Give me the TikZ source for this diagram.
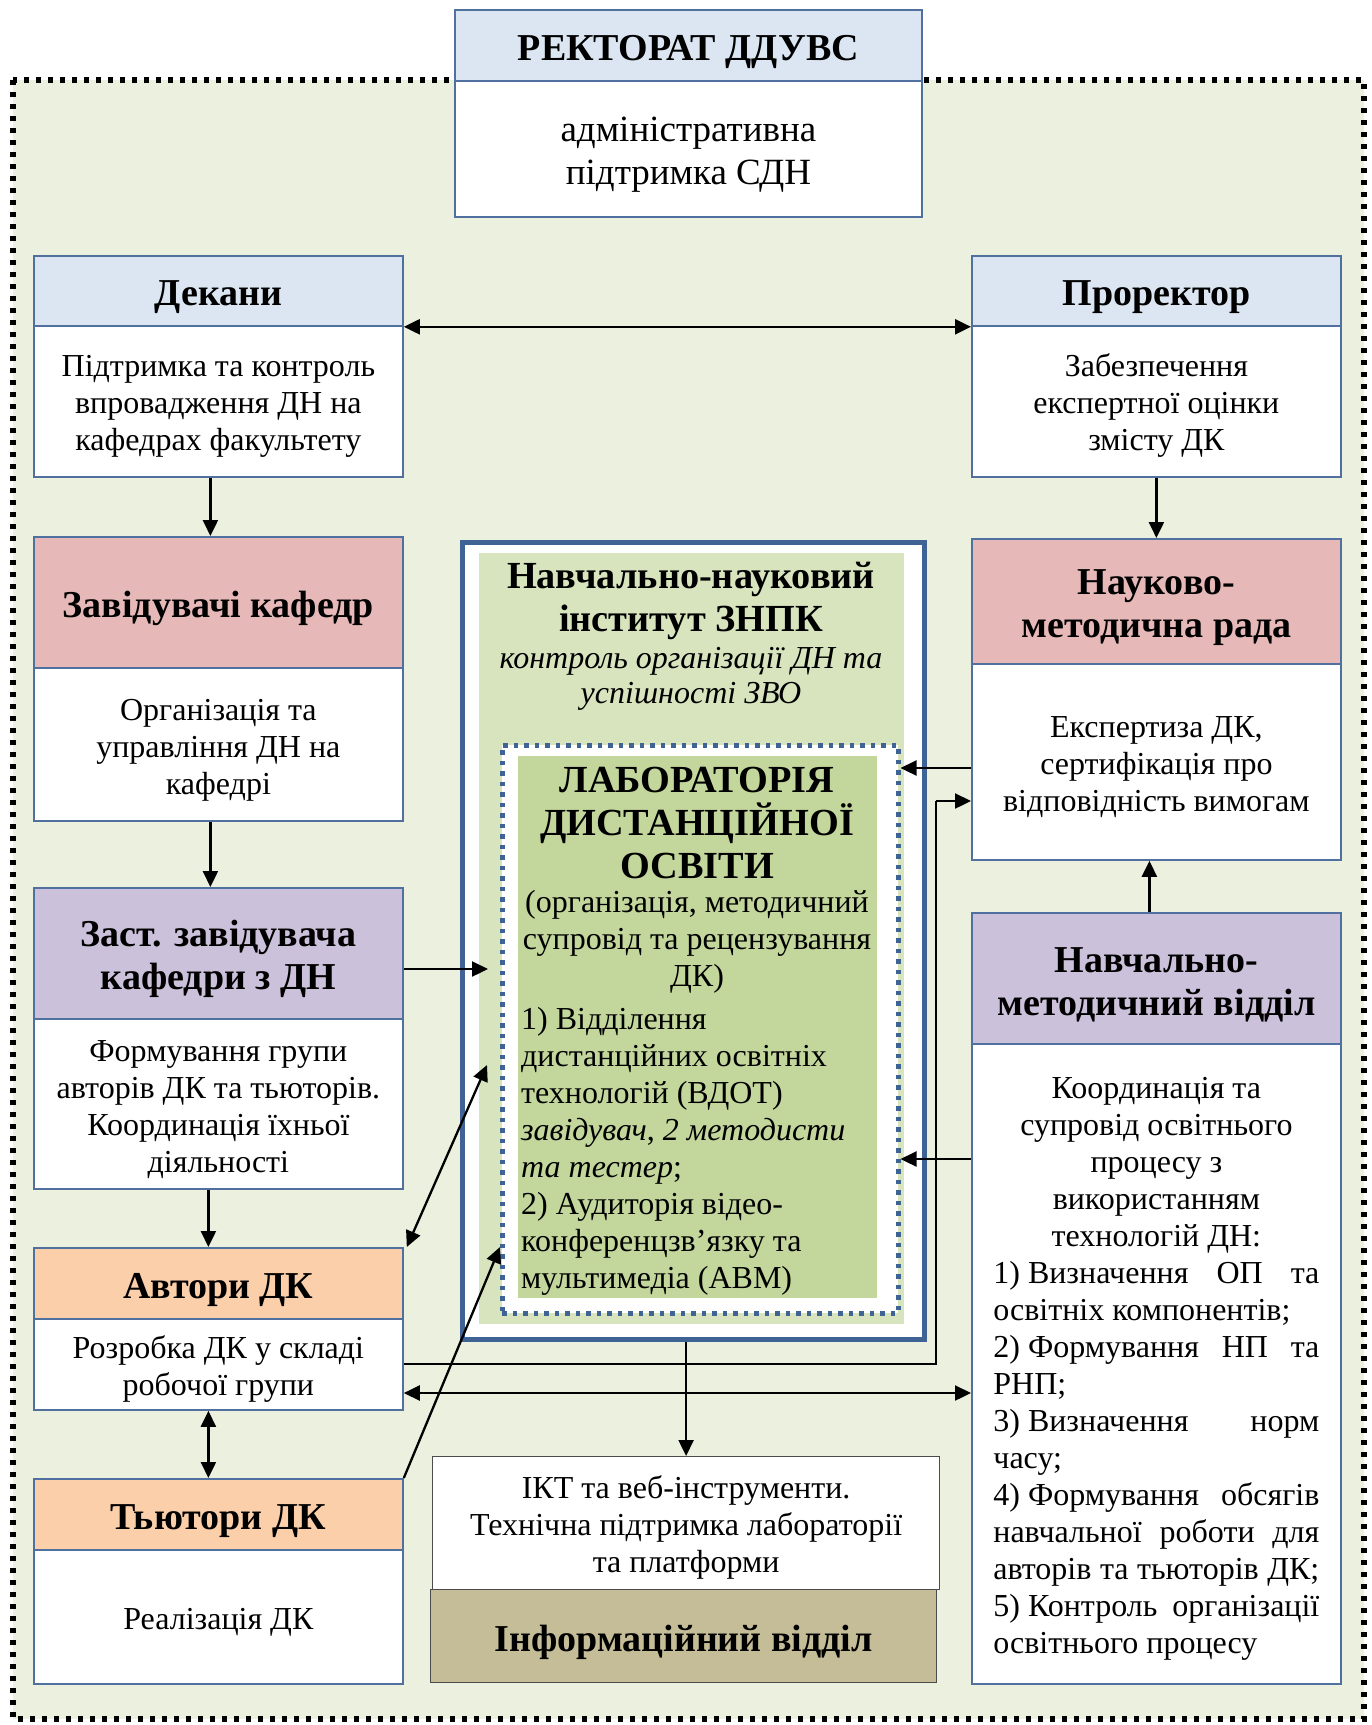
\documentclass[tikz,border=0pt]{standalone}
\usepackage{fontspec}
\setmainfont{Liberation Serif}
\usetikzlibrary{arrows.meta,calc}
\definecolor{bordc}{HTML}{50709F}
\definecolor{instc}{HTML}{3E6394}
\definecolor{labc}{HTML}{3F6395}
\definecolor{blueH}{HTML}{DCE6F2}
\definecolor{pinkH}{HTML}{E6B9B8}
\definecolor{purpH}{HTML}{CCC1DA}
\definecolor{peachH}{HTML}{FBCFAA}
\definecolor{tanH}{HTML}{C4BD97}
\definecolor{bgG}{HTML}{EBF1DE}
\definecolor{instG}{HTML}{D7E4BD}
\definecolor{labG}{HTML}{C3D69B}
\newcommand\bodyfont{\fontsize{32}{37}\selectfont}
\newcommand\hdrfont{\fontsize{38}{43}\selectfont\bfseries}
\newcommand\labtfont{\fontsize{38.3}{43}\selectfont\bfseries}
\newcommand\itfont{\fontsize{32}{35}\selectfont\itshape}
\newcommand\hs{\rule{0pt}{1em}}
\newcommand\fs{\hspace{0.25em}}
\begin{document}
\begin{tikzpicture}[x=1pt,y=-1pt,
  box/.style={draw=bordc, line width=1.8pt, rectangle, anchor=north west, inner sep=0pt, align=center},
  hdr/.style={box, font=\hdrfont},
  bod/.style={box, fill=white, font=\bodyfont},
  arr/.style={line width=2.3pt, -{Triangle[length=16pt,width=15pt]}},
  biarr/.style={line width=2.3pt, {Triangle[length=16pt,width=15pt]}-{Triangle[length=16pt,width=15pt]}},
  outerdots/.style={line width=5.5pt, dash pattern=on 5pt off 7pt},
  labdots/.style={line width=4.5pt, dash pattern=on 4.5pt off 6pt}
]
\useasboundingbox (0,0) rectangle (1372,1725);
% outer region
\fill[bgG] (13,80) rectangle (1364,1719);
\draw[outerdots] (13,80) rectangle (1364,1719);

% top box
\node[hdr, fill=blueH, minimum width=467pt, minimum height=71pt] (rekH) at (454,9) {\hs РЕКТОРАТ ДДУВС};
\node[bod, minimum width=467pt, minimum height=136pt, font=\fontsize{37}{43}\selectfont] (rekB) at (454,80) {\hs адміністративна\\підтримка СДН};

% left column
\node[hdr, fill=blueH, minimum width=369pt, minimum height=70pt] (dekH) at (33,255) {\hs Декани};
\node[bod, minimum width=369pt, minimum height=151pt] (dekB) at (33,325) {\hs Підтримка та контроль\\впровадження ДН на\\кафедрах факультету};

\node[hdr, fill=pinkH, minimum width=369pt, minimum height=131pt] (zavH) at (33,536) {\hs Завідувачі кафедр};
\node[bod, minimum width=369pt, minimum height=153pt] (zavB) at (33,667) {\hs Організація та\\управління ДН на\\кафедрі};

\node[hdr, fill=purpH, minimum width=369pt, minimum height=131pt] (zasH) at (33,887) {\hs Заст. завідувача\\кафедри з ДН};
\node[bod, minimum width=369pt, minimum height=170pt] (zasB) at (33,1018) {\hs Формування групи\\авторів ДК та тьюторів.\\Координація їхньої\\діяльності};

\node[hdr, fill=peachH, minimum width=369pt, minimum height=71pt] (avtH) at (33,1247) {\hs Автори ДК};
\node[bod, minimum width=369pt, minimum height=91pt] (avtB) at (33,1318) {\hs Розробка ДК у складі\\робочої групи};

\node[hdr, fill=peachH, minimum width=369pt, minimum height=71pt] (tyuH) at (33,1478) {\hs Тьютори ДК};
\node[bod, minimum width=369pt, minimum height=134pt] (tyuB) at (33,1549) {\hs Реалізація ДК};

% right column
\node[hdr, fill=blueH, minimum width=369pt, minimum height=70pt] (proH) at (971,255) {\hs Проректор};
\node[bod, minimum width=369pt, minimum height=151pt] (proB) at (971,325) {\hs Забезпечення\\експертної оцінки\\змісту ДК};

\node[hdr, fill=pinkH, minimum width=369pt, minimum height=125pt] (nmrH) at (971,538) {\hs Науково-\\методична рада};
\node[bod, minimum width=369pt, minimum height=196pt] (nmrB) at (971,663) {\hs Експертиза ДК,\\сертифікація про\\відповідність вимогам};

\node[hdr, fill=purpH, minimum width=369pt, minimum height=131pt] (nmvH) at (971,912) {\hs Навчально-\\методичний відділ};
\node[bod, minimum width=369pt, minimum height=640pt] (nmvB) at (971,1043) {\hs Координація та\\супровід освітнього\\процесу з\\використанням\\технологій ДН:\\
\makebox[326pt][s]{1)\fs Визначення ОП та}\\
\makebox[326pt][l]{освітніх компонентів;}\\
\makebox[326pt][s]{2)\fs Формування НП та}\\
\makebox[326pt][l]{РНП;}\\
\makebox[326pt][s]{3)\fs Визначення норм}\\
\makebox[326pt][l]{часу;}\\
\makebox[326pt][s]{4)\fs Формування обсягів}\\
\makebox[326pt][s]{навчальної роботи для}\\
\makebox[326pt][s]{авторів та тьюторів ДК;}\\
\makebox[326pt][s]{5)\fs Контроль організації}\\
\makebox[326pt][l]{освітнього процесу}};

% institute
\node[draw=instc, line width=4.5pt, fill=white, minimum width=462pt, minimum height=797pt, anchor=north west, inner sep=0pt] (inst) at (460,540) {};
\fill[instG] (479,553) rectangle (904,1324);
\node[font=\labtfont, align=center, inner sep=0pt] (instT) at (691,601) {Навчально-науковий\\інститут ЗНПК};
\node[font=\itfont, align=center, inner sep=0pt] (instS) at (691,679) {контроль організації ДН та\\успішності ЗВО};

% laboratory
\node[draw=labc, labdots, fill=white, minimum width=396pt, minimum height=568pt, anchor=north west, inner sep=0pt] (lab) at (500,743) {};
\fill[labG] (518,756) rectangle (877,1298);
\node[font=\labtfont, align=center, inner sep=0pt] (labT) at (697,823) {ЛАБОРАТОРІЯ\\ДИСТАНЦІЙНОЇ\\ОСВІТИ};
\node[font=\bodyfont, align=center, inner sep=0pt] (labS) at (697,942) {(організація, методичний\\супровід та рецензування\\ДК)};
\node[font=\bodyfont, align=left, inner sep=0pt, anchor=west] (labL) at (521,1151) {1) Відділення\\дистанційних освітніх\\технологій (ВДОТ)\\\textit{завідувач}, \textit{2 методисти}\\\textit{та тестер};\\2) Аудиторія відео-\\конференцзв’язку та\\мультимедіа (АВМ)};

% information dept
\node[box, draw=black!70, line width=1.2pt, fill=white, font=\bodyfont, minimum width=507pt, minimum height=133pt] (ikt) at (432,1456) {\hs ІКТ та веб-інструменти.\\Технічна підтримка лабораторії\\та платформи};
\node[box, draw=black!70, line width=1.2pt, fill=tanH, font=\hdrfont, minimum width=506pt, minimum height=93pt] (info) at (430,1589) {\hs Інформаційний відділ};

% helper coordinates
\coordinate (yZas) at (0,969);
\coordinate (pAvtLab) at (487,1065);
\coordinate (pTyuLab) at (500,1247);
\coordinate (yNmr) at (0,768);
\coordinate (yNmv) at (0,1159);
\coordinate (c1) at (936,1364);
\coordinate (c2) at (936,801);
\coordinate (yAN) at (0,1393);
\coordinate (xZasTip) at (488,0);

% connectors
\draw[biarr] (dekH.south east) -- (proH.south west);
\draw[arr] ([xshift=-8pt]dekB.south) -- ([xshift=-8pt]zavH.north);
\draw[arr] ([xshift=-8pt]zavB.south) -- ([xshift=-8pt]zasH.north);
\draw[arr] ([xshift=-10pt]zasB.south) -- ([xshift=-10pt]avtH.north);
\draw[biarr] ([xshift=-10pt]avtB.south) -- ([xshift=-10pt]tyuH.north);
\draw[arr] (proB.south) -- (nmrH.north);
\draw[arr] ([xshift=-7pt]nmvH.north) -- ([xshift=-7pt]nmrB.south);
\draw[arr] (zasH.east |- yZas) -- (xZasTip |- yZas);
\draw[biarr] ([xshift=3pt]avtH.north east) -- (pAvtLab);
\draw[arr] (tyuH.north east) -- (pTyuLab);
\draw[arr] (nmrB.west |- yNmr) -- (lab.east |- yNmr);
\draw[arr] (nmvB.west |- yNmv) -- (lab.east |- yNmv);
\draw[line width=2.3pt] (avtB.east |- c1) -- (c1) -- (c2);
\draw[arr] (c2) -- (nmrB.west |- c2);
\draw[biarr] (avtB.east |- yAN) -- (nmvB.west |- yAN);
\draw[arr] (ikt.north |- inst.south) -- (ikt.north);
\end{tikzpicture}
\end{document}
